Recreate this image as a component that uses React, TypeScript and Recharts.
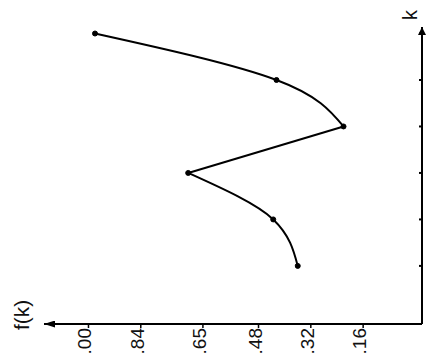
import React from 'react';
import { LineChart, Line, XAxis, YAxis } from 'recharts';

const kValues = [1, 2, 3, 4, 5, 6];
const fValues = [0.36, 0.435, 0.695, 0.22, 0.425, 0.98];
const kTicks = [1, 2, 3, 4, 5, 6];
const fTicks = [0.16, 0.32, 0.48, 0.65, 0.84, 1.0];
const fTickLabels = ['.16', '.32', '.48', '.65', '.84', '1.00'];
const kDomain = [-0.25, 6.14];
const fDomain = [-0.02, 1.136];

// the curve has sharp corners at k=3 and k=4, so it is drawn in three pieces
const data = kValues.map((k, i) => ({
  k,
  rise1: i <= 2 ? fValues[i] : null,
  drop: i >= 2 && i <= 3 ? fValues[i] : null,
  rise2: i >= 3 ? fValues[i] : null,
}));

const FONT = '"Liberation Sans", Arial, sans-serif';

// the figure is printed on its side, so every text reads bottom to top
const FTick = ({ x, y, payload }: any) => {
  const idx = fTicks.indexOf(payload.value);
  return (
    <text
      x={x}
      y={y}
      dy={3}
      transform={`rotate(-90, ${x}, ${y})`}
      textAnchor="end"
      fontFamily={FONT}
      fontSize={19}
      fill="#111"
    >
      {fTickLabels[idx]}
    </text>
  );
};

// k has tick marks but no numbers
const KTick = () => <g />;

const FLabel = (props: any) => {
  const vb = props.viewBox;
  const x = vb.x - 15;
  const y = vb.y + 6;
  return (
    <text x={x} y={y} transform={`rotate(-90, ${x}, ${y})`} fontFamily={FONT} fontSize={21} fill="#111">
      f(k)
    </text>
  );
};

const KLabel = (props: any) => {
  const vb = props.viewBox;
  const x = vb.x - 5;
  const y = vb.y - 7;
  return (
    <text x={x} y={y} transform={`rotate(-90, ${x}, ${y})`} fontFamily={FONT} fontSize={20} fill="#111">
      k
    </text>
  );
};

const dotStyle = { r: 2.5, fill: '#000', stroke: '#000', strokeWidth: 1 };

export default function App() {
  return (
    <div style={{ position: 'fixed', left: 0, top: 0, width: 437, height: 355, background: '#fff' }}>
      <LineChart
        layout="vertical"
        width={437}
        height={355}
        data={data}
        margin={{ top: 27, right: 0, bottom: 0, left: 44 }}
      >
        <defs>
          <marker
            id="arrF"
            viewBox="0 0 11 7"
            refX="11"
            refY="3.5"
            markerWidth="11"
            markerHeight="7"
            markerUnits="userSpaceOnUse"
            orient="auto-start-reverse"
          >
            <path d="M0,0 L11,3.5 L0,7 z" fill="#000" />
          </marker>
          <marker
            id="arrK"
            viewBox="0 0 8 8"
            refX="8"
            refY="4"
            markerWidth="8"
            markerHeight="8"
            markerUnits="userSpaceOnUse"
            orient="auto-start-reverse"
          >
            <path d="M0,0 L8,4 L0,8 z" fill="#000" />
          </marker>
        </defs>
        <XAxis
          type="number"
          domain={fDomain}
          ticks={fTicks}
          reversed
          height={31}
          stroke="#000"
          axisLine={{ stroke: '#000', strokeWidth: 2, markerStart: 'url(#arrF)' }}
          tickLine={{ stroke: '#000', strokeWidth: 1.5 }}
          tickSize={4}
          tickMargin={0}
          tick={FTick}
          label={FLabel}
        />
        <YAxis
          dataKey="k"
          type="number"
          orientation="right"
          domain={kDomain}
          ticks={kTicks}
          reversed
          width={15}
          stroke="#000"
          axisLine={{ stroke: '#000', strokeWidth: 2, markerStart: 'url(#arrK)' }}
          tickLine={{ stroke: '#000', strokeWidth: 2 }}
          tickSize={-3}
          tick={KTick}
          label={KLabel}
        />
        <Line
          dataKey="rise1"
          type="monotone"
          stroke="#000"
          strokeWidth={2}
          dot={dotStyle}
          isAnimationActive={false}
        />
        <Line
          dataKey="drop"
          type="monotone"
          stroke="#000"
          strokeWidth={2}
          dot={false}
          isAnimationActive={false}
        />
        <Line
          dataKey="rise2"
          type="monotone"
          stroke="#000"
          strokeWidth={2}
          dot={dotStyle}
          isAnimationActive={false}
        />
      </LineChart>
    </div>
  );
}
